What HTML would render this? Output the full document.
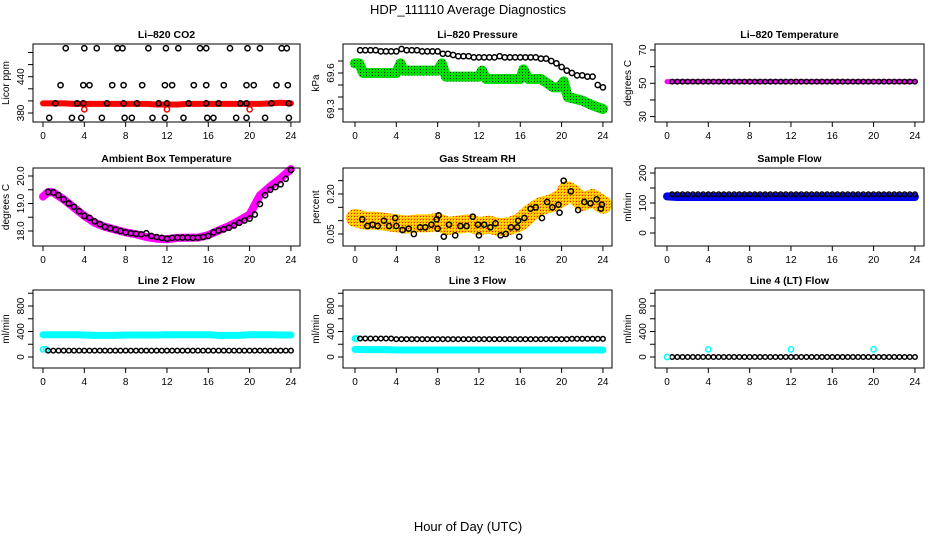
<!DOCTYPE html>
<html><head><meta charset="utf-8"><style>
html,body{margin:0;padding:0;background:#fff;}
svg{display:block;font-family:"Liberation Sans",Arial,sans-serif;}
</style></head><body>
<svg id="c" width="936" height="540" viewBox="0 0 936 540" xmlns="http://www.w3.org/2000/svg">
<defs>
<pattern id="pg" width="3" height="3" patternUnits="userSpaceOnUse"><rect width="3" height="3" fill="#00e000"/><rect width="1" height="1" fill="#222"/></pattern>
<pattern id="po" width="3" height="3" patternUnits="userSpaceOnUse"><rect width="3" height="3" fill="#ffc000"/><rect width="1" height="1" fill="#f02000"/><rect x="1" y="1" width="1" height="1" fill="#ffff00"/></pattern>
</defs>
<text x="468" y="14" text-anchor="middle" font-size="13">HDP_111110  Average Diagnostics</text>
<text x="468" y="531" text-anchor="middle" font-size="13">Hour of Day (UTC)</text>
</svg>
<script>
// ---- data ----
const xTicks=[0,4,8,12,16,20,24];
const bandHours=[0,1,2,3,4,5,6,7,8,9,10,11,12,13,14,15,16,17,18,19,20,21,22,23,24];
const halfHours=[0.5,1,1.5,2,2.5,3,3.5,4,4.5,5,5.5,6,6.5,7,7.5,8,8.5,9,9.5,10,10.5,11,11.5,12,12.5,13,13.5,14,14.5,15,15.5,16,16.5,17,17.5,18,18.5,19,19.5,20,20.5,21,21.5,22,22.5,23,23.5,24];
// CO2
const co2RedBand=[396,396,396,395,395,395,395,395,395,395,395,394,394,394,395,395,395,395,395,395,395,395,396,397,396];
const co2RedOutHours=[4,12,20];
const co2RedOutVals=[386,386,386];
const co2BlackHours=[2.2,4,5.2,7.2,7.7,10.2,11.9,13.1,15.2,15.8,18.1,19.8,21,23.1,23.6,1.7,3.9,4.5,6.7,7.8,9.6,11.8,12.5,14.6,15.8,17.5,19.7,20.4,22.6,23.7,1.2,3.3,3.9,6.2,7.8,9.1,11.2,12,14.1,15.8,17,19.1,19.7,22.1,23.8,0.6,2.8,3.7,5.7,7.9,8.6,10.6,11.8,13.6,15.9,16.5,18.7,19.7,21.5,23.8];
const co2BlackVals=[487,487,487,487,487,487,487,487,487,487,487,487,487,487,487,426,426,426,426,426,426,426,426,426,426,426,426,426,426,426,396,396,396,396,396,396,396,396,396,396,396,396,396,396,396,372,372,372,372,372,372,372,372,372,372,372,372,372,372,372];
// Pressure
const presGreenHours=[0,0.4,0.8,2,4,4.4,4.7,6,8,8.4,8.8,10,12,12.3,12.7,14,16,16.3,16.8,18,19.2,19.8,20.2,20.6,22,23,24];
const presGreenVals=[69.68,69.68,69.6,69.6,69.6,69.68,69.62,69.62,69.62,69.68,69.57,69.57,69.57,69.62,69.55,69.55,69.55,69.63,69.55,69.55,69.48,69.48,69.53,69.40,69.37,69.33,69.30];
const presBlackVals=[69.79,69.79,69.79,69.79,69.78,69.78,69.78,69.78,69.80,69.79,69.79,69.79,69.78,69.78,69.78,69.78,69.76,69.76,69.75,69.74,69.74,69.74,69.73,69.73,69.73,69.73,69.73,69.74,69.73,69.73,69.73,69.73,69.73,69.73,69.73,69.72,69.72,69.7,69.68,69.65,69.62,69.6,69.58,69.58,69.57,69.57,69.5,69.48];
// Li-820 temperature
const tempBand=[51,51,51,51,51,51,51,51,51,51,51,51,51,51,51,51,51,51,51,51,51,51,51,51,51];
const tempBlackVals=[51,51,51,51,51,51,51,51,51,51,51,51,51,51,51,51,51,51,51,51,51,51,51,51,51,51,51,51,51,51,51,51,51,51,51,51,51,51,51,51,51,51,51,51,51,51,51,51];
// Ambient box temperature
const ambHours=[0,0.5,1,2,3,4,5,6,7,8,9,10,11,12,13,14,15,16,17,18,19,20,20.5,21,22,23,24];
const ambBand=[19.25,19.42,19.4,19.15,18.85,18.55,18.3,18.15,18.05,17.95,17.88,17.78,17.72,17.7,17.75,17.76,17.76,17.85,18.02,18.18,18.38,18.6,18.95,19.3,19.62,19.92,20.25];
const ambBlackVals=[19.42,19.4,19.3,19.15,19.0,18.88,18.72,18.55,18.48,18.35,18.25,18.15,18.1,18.05,18.0,17.95,17.92,17.9,17.88,17.92,17.82,17.78,17.75,17.72,17.75,17.76,17.76,17.76,17.75,17.76,17.78,17.82,17.95,18.02,18.06,18.12,18.2,18.3,18.38,18.45,18.6,18.98,19.3,19.5,19.6,19.7,19.9,20.22];
// RH
const rhBandHours=[0,1,2,3,4,5,6,7,8,9,10,11,12,13,14,15,16,17,18,19,20,20.5,21,22,23,24];
const rhBand=[0.11,0.10,0.10,0.095,0.09,0.085,0.09,0.09,0.095,0.08,0.085,0.09,0.08,0.085,0.075,0.08,0.095,0.13,0.155,0.165,0.185,0.215,0.205,0.17,0.185,0.16];
const rhBlackHours=[0.7,1.2,1.7,2.2,2.8,3.3,3.9,4,4.6,5.2,5.7,6.3,6.8,7.4,7.9,8,8.1,8.6,9.1,9.7,10.2,10.8,11.4,11.9,12,12.5,13.1,13.6,14.1,14.6,15.1,15.7,15.8,15.9,16.4,17,17.5,18.1,18.6,19.1,19.7,19.8,20.2,20.9,21.6,22.2,22.8,23.4,23.9,23.8];
const rhBlackVals=[0.105,0.08,0.085,0.08,0.10,0.08,0.11,0.08,0.065,0.07,0.05,0.075,0.075,0.085,0.105,0.07,0.12,0.04,0.085,0.045,0.08,0.08,0.115,0.085,0.045,0.085,0.075,0.09,0.045,0.05,0.075,0.075,0.10,0.04,0.11,0.145,0.15,0.11,0.17,0.15,0.16,0.13,0.25,0.21,0.14,0.17,0.165,0.18,0.16,0.145];
// Sample flow
const sampleBand=[122,120,120,120,120,120,120,120,120,120,120,120,120,120,120,120,120,120,120,120,120,120,120,120,120];
const sampleBlackVals=[129,129,129,129,129,129,129,129,129,129,129,129,129,129,129,129,129,129,129,129,129,129,129,129,129,129,129,129,129,129,129,129,129,129,129,129,129,129,129,129,129,129,129,129,129,129,129,129];
// Line 2
const line2Cyan=[350,350,350,350,345,340,340,340,345,345,345,345,350,350,350,350,350,340,340,340,350,350,350,345,345];
const line2Black=[100,100,100,100,100,100,100,100,100,100,100,100,100,100,100,100,100,100,100,100,100,100,100,100,100,100,100,100,100,100,100,100,100,100,100,100,100,100,100,100,100,100,100,100,100,100,100,100];
const line2CyanLowHours=[0,0.3];
const line2CyanLow=[120,120];
// Line 3
const line3Cyan=[120,115,115,115,110,110,110,110,110,110,110,110,110,110,110,110,110,110,110,110,110,110,110,110,110];
const line3Black=[290,290,290,290,290,290,290,280,280,280,280,280,280,280,280,280,280,280,280,280,280,280,280,280,280,280,280,280,280,280,280,280,280,280,280,280,280,280,280,280,280,285,285,285,285,285,285,285];
const line3CyanHighHours=[0,0.2];
const line3CyanHigh=[290,290];
// Line 4
const line4Black=[0,0,0,0,0,0,0,0,0,0,0,0,0,0,0,0,0,0,0,0,0,0,0,0,0,0,0,0,0,0,0,0,0,0,0,0,0,0,0,0,0,0,0,0,0,0,0,0];
const line4CyanHours=[0,4,12,20];
const line4CyanVals=[0,120,120,120];

// ---- drawing ----
const svg=document.getElementById('c');
const NS='http://www.w3.org/2000/svg';
function mk(tag,attrs,parent){const e=document.createElementNS(NS,tag);for(const k in attrs)e.setAttribute(k,attrs[k]);(parent||svg).appendChild(e);return e;}

function panel(o){
  const g=mk('g',{});
  
  
  const L=o.L,R=o.R,T=o.T,B=o.B;
  const xs=h=>o.x0+h*10.33;
  const ys=v=>o.yA+(v-o.vA)*(o.yB-o.yA)/(o.vB-o.vA);
  o.draw(g,xs,ys);
  const box=mk('rect',{x:L,y:T,width:R-L,height:B-T,fill:'none',stroke:'#000','stroke-width':1},g);
  
  
  const t=mk('text',{x:(L+R)/2,y:T-6,'text-anchor':'middle','font-size':10.5,'font-weight':'bold'},g);
  t.textContent=o.title;
  
  
  xTicks.forEach(h=>{
    mk('line',{x1:xs(h),x2:xs(h),y1:B,y2:B+5,stroke:'#000'},g);
    const tl=mk('text',{x:xs(h),y:B+17,'text-anchor':'middle','font-size':10},g);
    tl.textContent=h;
    
    
  });
  o.yTicks.forEach(v=>{mk('line',{x1:L-5,x2:L,y1:ys(v),y2:ys(v),stroke:'#000'},g);});
  o.yLabels.forEach(s=>{
    const y=ys(Number(s));
    const tl=mk('text',{x:L-9,y:y,'text-anchor':'middle','font-size':10,transform:`rotate(-90 ${L-9} ${y})`},g);
    tl.textContent=s;
    
    
  });
  const yc=(T+B)/2, yx=L-24;
  const yl=mk('text',{x:yx,y:yc,'text-anchor':'middle','font-size':10,transform:`rotate(-90 ${yx} ${yc})`},g);
  yl.textContent=o.ylab;
  
  
}
function band(g,xs,ys,hs,vs,color,w,name){
  const p=mk('polyline',{points:hs.map((h,i)=>xs(h)+','+ys(vs[i])).join(' '),fill:'none',stroke:color,'stroke-width':w,'stroke-linecap':'round','stroke-linejoin':'round'},g);
  
  
}
function pts(g,xs,ys,hs,vs,color,name,r){
  hs.forEach((h,i)=>{
    const c=mk('circle',{cx:xs(h),cy:ys(vs[i]),r:r||2.6,fill:'none',stroke:color,'stroke-width':1.5},g);
    
    
  });
}
const cols=[{L:33,R:300,x0:43},{L:343,R:612,x0:355},{L:655,R:924,x0:667}];
const rows=[{T:44,B:122},{T:168,B:246},{T:290,B:368}];
function P(c,r,extra){return Object.assign({},cols[c],rows[r],extra);}

panel(P(0,0,{name:'co2',title:'Li\u2013820 CO2',ylab:'Licor ppm',vA:380,yA:113,vB:440,yB:76.7,
  yTicks:[380,400,420,440,460,480],yLabels:['380','440'],
  draw:(g,xs,ys)=>{band(g,xs,ys,bandHours,co2RedBand,'#f00',6,'co2-red-series');pts(g,xs,ys,co2RedOutHours,co2RedOutVals,'#f00','co2-red-point');pts(g,xs,ys,co2BlackHours,co2BlackVals,'#000','co2-black-point');}}));
panel(P(1,0,{name:'pressure',title:'Li\u2013820 Pressure',ylab:'kPa',vA:69.6,yA:73,vB:69.3,yB:109,
  yTicks:[69.3,69.4,69.5,69.6,69.7],yLabels:['69.3','69.6'],
  draw:(g,xs,ys)=>{band(g,xs,ys,presGreenHours,presGreenVals,'url(#pg)',10,'pressure-green-series');pts(g,xs,ys,halfHours,presBlackVals,'#000','pressure-black-point');}}));
panel(P(2,0,{name:'li820-temp',title:'Li\u2013820 Temperature',ylab:'degrees C',vA:50,yA:83.3,vB:70,yB:50,
  yTicks:[30,40,50,60,70],yLabels:['30','50','70'],
  draw:(g,xs,ys)=>{band(g,xs,ys,bandHours,tempBand,'#f0f',5,'temp-magenta-series');pts(g,xs,ys,halfHours,tempBlackVals,'#000','temp-black-point',2.3);}}));
panel(P(0,1,{name:'ambient',title:'Ambient Box Temperature',ylab:'degrees C',vA:18,yA:231,vB:20,yB:176,
  yTicks:[18,18.5,19,19.5,20],yLabels:['18.0','19.0','20.0'],
  draw:(g,xs,ys)=>{band(g,xs,ys,ambHours,ambBand,'#f0f',8,'ambient-magenta-series');pts(g,xs,ys,halfHours,ambBlackVals,'#000','ambient-black-point');}}));
panel(P(1,1,{name:'rh',title:'Gas Stream RH',ylab:'percent',vA:0.05,yA:234,vB:0.20,yB:194,
  yTicks:[0.05,0.10,0.15,0.20,0.25],yLabels:['0.05','0.20'],
  draw:(g,xs,ys)=>{band(g,xs,ys,rhBandHours,rhBand,'url(#po)',18,'rh-orange-series');pts(g,xs,ys,rhBlackHours,rhBlackVals,'#000','rh-black-point');}}));
panel(P(2,1,{name:'sample-flow',title:'Sample Flow',ylab:'ml/min',vA:0,yA:233,vB:200,yB:173,
  yTicks:[0,50,100,150,200],yLabels:['0','100','200'],
  draw:(g,xs,ys)=>{band(g,xs,ys,bandHours,sampleBand,'#0000f0',8,'sample-blue-series');pts(g,xs,ys,halfHours,sampleBlackVals,'#000','sample-black-point',2.3);}}));
panel(P(0,2,{name:'line2',title:'Line 2 Flow',ylab:'ml/min',vA:0,yA:357,vB:800,yB:306,
  yTicks:[0,200,400,600,800,1000],yLabels:['0','400','800'],
  draw:(g,xs,ys)=>{band(g,xs,ys,bandHours,line2Cyan,'#0ff',7,'line2-cyan-series');pts(g,xs,ys,line2CyanLowHours,line2CyanLow,'#0ff','line2-cyan-point');pts(g,xs,ys,halfHours,line2Black,'#000','line2-black-point',2.3);}}));
panel(P(1,2,{name:'line3',title:'Line 3 Flow',ylab:'ml/min',vA:0,yA:357,vB:800,yB:306,
  yTicks:[0,200,400,600,800,1000],yLabels:['0','400','800'],
  draw:(g,xs,ys)=>{band(g,xs,ys,bandHours,line3Cyan,'#0ff',7,'line3-cyan-series');pts(g,xs,ys,line3CyanHighHours,line3CyanHigh,'#0ff','line3-cyan-point');pts(g,xs,ys,halfHours,line3Black,'#000','line3-black-point',2.3);}}));
panel(P(2,2,{name:'line4',title:'Line 4 (LT) Flow',ylab:'ml/min',vA:0,yA:357,vB:800,yB:306,
  yTicks:[0,200,400,600,800,1000],yLabels:['0','400','800'],
  draw:(g,xs,ys)=>{pts(g,xs,ys,halfHours,line4Black,'#000','line4-black-point',2.3);pts(g,xs,ys,line4CyanHours,line4CyanVals,'#0ff','line4-cyan-point');}}));
</script>
</body></html>
